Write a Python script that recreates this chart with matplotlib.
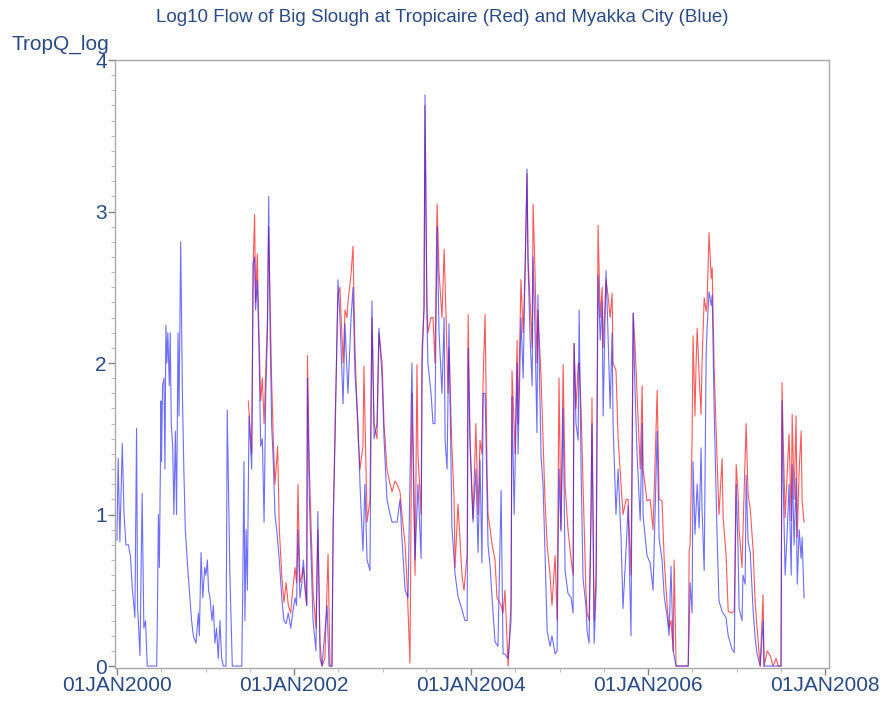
#!/usr/bin/env python3
"""Log10 flow of Big Slough at Tropicaire (red) and Myakka City (blue)."""

import numpy as np
import matplotlib
matplotlib.use("Agg")
import matplotlib.pyplot as plt
import matplotlib.dates as mdates
from matplotlib.ticker import MultipleLocator, FuncFormatter


# Myakka City (blue), decimal years and log10 flow
blue_t = [
    2000.000, 2000.015, 2000.034, 2000.060, 2000.079, 2000.102, 2000.128, 2000.154,
    2000.173, 2000.203, 2000.222, 2000.234, 2000.260, 2000.286, 2000.305, 2000.324,
    2000.343, 2000.448, 2000.456, 2000.467, 2000.478, 2000.486, 2000.497, 2000.505,
    2000.516, 2000.531, 2000.542, 2000.554, 2000.565, 2000.576, 2000.591, 2000.603,
    2000.614, 2000.629, 2000.644, 2000.659, 2000.674, 2000.689, 2000.701, 2000.719,
    2000.738, 2000.757, 2000.772, 2000.806, 2000.844, 2000.863, 2000.893, 2000.919,
    2000.930, 2000.949, 2000.968, 2000.991, 2001.006, 2001.021, 2001.036, 2001.051,
    2001.073, 2001.089, 2001.107, 2001.126, 2001.145, 2001.164, 2001.183, 2001.202,
    2001.232, 2001.247, 2001.277, 2001.303, 2001.409, 2001.420, 2001.435, 2001.446,
    2001.458, 2001.473, 2001.492, 2001.522, 2001.540, 2001.556, 2001.567, 2001.586,
    2001.605, 2001.623, 2001.642, 2001.661, 2001.680, 2001.699, 2001.714, 2001.729,
    2001.748, 2001.766, 2001.785, 2001.804, 2001.834, 2001.861, 2001.887, 2001.910,
    2001.936, 2001.962, 2001.985, 2002.011, 2002.030, 2002.045, 2002.068, 2002.090,
    2002.105, 2002.124, 2002.143, 2002.151, 2002.173, 2002.215, 2002.249, 2002.271,
    2002.294, 2002.316, 2002.373, 2002.395, 2002.429, 2002.441, 2002.463, 2002.497,
    2002.520, 2002.554, 2002.576, 2002.599, 2002.610, 2002.644, 2002.667, 2002.689,
    2002.723, 2002.746, 2002.780, 2002.802, 2002.825, 2002.859, 2002.881, 2002.904,
    2002.938, 2002.960, 2002.994, 2003.017, 2003.051, 2003.085, 2003.107, 2003.141,
    2003.164, 2003.198, 2003.220, 2003.254, 2003.288, 2003.333, 2003.367, 2003.401,
    2003.435, 2003.446, 2003.469, 2003.480, 2003.503, 2003.514, 2003.548, 2003.571,
    2003.593, 2003.616, 2003.638, 2003.672, 2003.695, 2003.706, 2003.729, 2003.751,
    2003.785, 2003.819, 2003.853, 2003.898, 2003.932, 2003.955, 2003.966, 2003.989,
    2004.023, 2004.056, 2004.079, 2004.102, 2004.124, 2004.136, 2004.158, 2004.181,
    2004.192, 2004.215, 2004.237, 2004.271, 2004.305, 2004.339, 2004.362, 2004.384,
    2004.418, 2004.452, 2004.463, 2004.486,
    2004.520, 2004.531, 2004.565, 2004.588, 2004.610, 2004.633, 2004.644,
    2004.667, 2004.689, 2004.701, 2004.723, 2004.746, 2004.757, 2004.791, 2004.814,
    2004.836, 2004.859, 2004.893, 2004.915, 2004.949, 2004.972, 2004.994, 2005.017,
    2005.040, 2005.062, 2005.096, 2005.130, 2005.153, 2005.164, 2005.186, 2005.209,
    2005.220, 2005.243, 2005.266, 2005.299, 2005.311, 2005.333, 2005.356, 2005.367,
    2005.390, 2005.412, 2005.435, 2005.458, 2005.480, 2005.492, 2005.525, 2005.548,
    2005.571, 2005.593, 2005.605, 2005.638, 2005.661, 2005.695, 2005.718, 2005.751,
    2005.774, 2005.808, 2005.831, 2005.853, 2005.876, 2005.910, 2005.932, 2005.944,
    2005.989, 2006.023, 2006.056, 2006.102, 2006.124, 2006.158, 2006.181, 2006.215,
    2006.237, 2006.260, 2006.282, 2006.316, 2006.452, 2006.463, 2006.475, 2006.497,
    2006.508, 2006.531, 2006.554, 2006.576, 2006.599, 2006.610, 2006.633, 2006.655,
    2006.667, 2006.689, 2006.712, 2006.723, 2006.746, 2006.780, 2006.802, 2006.836,
    2006.847, 2006.881, 2006.904, 2006.949, 2006.972, 2006.994, 2007.017, 2007.028,
    2007.062, 2007.073, 2007.096, 2007.107, 2007.130, 2007.153, 2007.186, 2007.209,
    2007.232, 2007.266, 2007.299, 2007.311, 2007.503, 2007.514, 2007.525, 2007.548,
    2007.571, 2007.593, 2007.616, 2007.627, 2007.650, 2007.672, 2007.684, 2007.706,
    2007.729, 2007.740, 2007.763,
]
blue_q = [
    0.83, 1.37, 0.82, 1.47, 1.01, 0.80, 0.80, 0.72,
    0.52, 0.32, 1.57, 0.40, 0.07, 1.14, 0.25, 0.30,
    0.00, 0.00, 0.35, 1.00, 0.65, 1.15, 1.75, 1.35,
    1.85, 1.90, 1.30, 2.25, 2.00, 2.20, 1.85, 2.20,
    1.60, 1.45, 1.00, 1.55, 1.00, 2.20, 1.65, 2.80,
    1.80, 1.30, 0.90, 0.60, 0.30, 0.20, 0.15, 0.35,
    0.20, 0.75, 0.45, 0.65, 0.60, 0.70, 0.50, 0.45,
    0.30, 0.40, 0.15, 0.25, 0.05, 0.30, 0.05, 0.00,
    0.00, 1.69, 0.60, 0.00, 0.00, 0.50, 1.35, 0.30,
    0.90, 0.50, 1.65, 1.30, 2.65, 2.70, 2.35, 2.55,
    2.10, 1.45, 1.50, 0.95, 1.80, 2.20, 3.10, 2.20,
    1.60, 1.35, 1.00, 0.90, 0.70, 0.45, 0.30, 0.28,
    0.35, 0.25, 0.35, 0.45, 0.40, 0.90, 0.45, 0.55,
    0.70, 0.55, 0.40, 1.90, 1.10, 0.30, 0.10, 1.02,
    0.05, 0.00, 0.40, 0.00, 0.00, 0.94, 1.50, 2.55,
    2.30, 1.73, 2.26, 1.95, 1.80, 2.30, 2.50, 1.93,
    1.60, 1.19, 0.76, 1.20, 0.70, 0.63, 2.41, 1.50,
    1.60, 2.23, 1.90, 1.50, 1.10, 1.00, 0.95, 0.95,
    0.95, 1.10, 0.84, 0.50, 0.45, 2.00, 0.70, 1.20,
    0.71, 2.00, 2.36, 3.77, 2.30, 2.00, 1.80, 1.60,
    1.60, 2.90, 2.20, 1.80, 2.30, 1.49, 1.30, 2.26,
    0.92, 0.61, 0.46, 0.37, 0.30, 0.30, 2.10, 1.45,
    0.95, 1.30, 0.75, 1.36, 0.68, 1.80, 1.80, 1.14,
    0.80, 0.65, 0.44, 0.16, 0.13, 1.16, 0.08, 0.08,
    0.05, 0.30, 1.78, 1.00,
    2.00, 1.40, 2.30, 1.90, 2.63, 3.28, 2.66,
    2.15, 1.85, 2.70, 2.20, 1.54, 2.45, 1.38, 1.20,
    0.76, 0.23, 0.13, 0.20, 0.08, 0.10, 1.30, 0.89,
    1.70, 0.63, 0.48, 0.45, 0.35, 2.13, 1.60, 1.49,
    2.35, 1.30, 0.58, 0.40, 0.23, 0.15, 1.00, 1.60,
    0.15, 0.50, 2.58, 2.15, 2.40, 1.65, 2.61, 2.20,
    1.70, 2.20, 1.60, 1.00, 1.30, 0.84, 0.38, 0.78,
    1.06, 0.20, 2.33, 1.80, 1.40, 0.96, 1.60, 0.99,
    0.73, 0.68, 0.50, 1.55, 0.84, 0.70, 0.46, 0.33,
    0.20, 0.66, 0.10, 0.00, 0.00, 0.23, 0.55, 0.35,
    1.35, 0.87, 1.20, 0.91, 1.44, 1.04, 0.63, 2.05,
    2.23, 2.47, 2.38, 2.45, 1.70, 0.87, 0.43, 0.36,
    0.35, 0.32, 0.20, 0.11, 0.09, 1.20, 0.76, 0.38,
    0.30, 0.60, 0.54, 1.26, 0.82, 0.75, 0.36, 0.19,
    0.08, 0.00, 0.30, 0.00, 0.00, 1.75, 1.20, 0.60,
    0.87, 1.20, 0.60, 1.33, 0.80, 1.24, 0.54, 0.90,
    0.71, 0.85, 0.45,
]

# Tropicaire (red), record starts mid 2001
red_t = [
    2001.484, 2001.522, 2001.540, 2001.556, 2001.567, 2001.586, 2001.605, 2001.623,
    2001.642, 2001.661, 2001.680, 2001.699, 2001.714, 2001.729, 2001.748, 2001.766,
    2001.785, 2001.815, 2001.834, 2001.861, 2001.887, 2001.910, 2001.936, 2001.962,
    2001.985, 2002.011, 2002.030, 2002.045, 2002.068, 2002.090, 2002.105, 2002.124,
    2002.143, 2002.151, 2002.173, 2002.215, 2002.249, 2002.271, 2002.294, 2002.316,
    2002.350, 2002.384, 2002.407, 2002.429, 2002.441, 2002.463, 2002.497, 2002.520,
    2002.554, 2002.576, 2002.599, 2002.610, 2002.644, 2002.667, 2002.689, 2002.723,
    2002.746, 2002.780, 2002.791, 2002.825, 2002.859, 2002.881, 2002.904, 2002.938,
    2002.960, 2002.994, 2003.017, 2003.051, 2003.085, 2003.107, 2003.141, 2003.164,
    2003.198, 2003.220, 2003.254, 2003.277, 2003.311, 2003.333, 2003.367, 2003.390,
    2003.401, 2003.435, 2003.446, 2003.469, 2003.480, 2003.503, 2003.514, 2003.548,
    2003.571, 2003.593, 2003.616, 2003.638, 2003.672, 2003.695, 2003.718, 2003.740,
    2003.751, 2003.785, 2003.808, 2003.819, 2003.853, 2003.898, 2003.921, 2003.955,
    2003.966, 2003.989, 2004.023, 2004.056, 2004.079, 2004.102, 2004.124, 2004.136,
    2004.158, 2004.181, 2004.192, 2004.215, 2004.237, 2004.271, 2004.294, 2004.339,
    2004.362, 2004.384, 2004.418, 2004.452,
    2004.463, 2004.497, 2004.520, 2004.531, 2004.565, 2004.588, 2004.610, 2004.633,
    2004.644, 2004.667, 2004.689, 2004.701, 2004.723, 2004.746, 2004.757, 2004.791,
    2004.814, 2004.836, 2004.859, 2004.893, 2004.915, 2004.949, 2004.972, 2004.994,
    2005.017, 2005.040, 2005.062, 2005.096, 2005.130, 2005.153, 2005.164, 2005.186,
    2005.209, 2005.220, 2005.243, 2005.266, 2005.299, 2005.311, 2005.333, 2005.356,
    2005.367, 2005.390, 2005.412, 2005.435, 2005.458, 2005.480, 2005.492, 2005.525,
    2005.548, 2005.571, 2005.593, 2005.605, 2005.638, 2005.661, 2005.695, 2005.718,
    2005.751, 2005.774, 2005.808, 2005.831, 2005.853, 2005.876, 2005.910, 2005.932,
    2005.944, 2005.989, 2006.023, 2006.056, 2006.102, 2006.124, 2006.158, 2006.181,
    2006.215, 2006.237, 2006.260, 2006.282, 2006.294, 2006.316, 2006.452, 2006.463,
    2006.475, 2006.497, 2006.508, 2006.531, 2006.542, 2006.554, 2006.576, 2006.599,
    2006.610, 2006.633, 2006.655, 2006.667, 2006.689, 2006.712, 2006.723, 2006.746,
    2006.780, 2006.802, 2006.836, 2006.847, 2006.881, 2006.904, 2006.949, 2006.972,
    2006.994, 2007.017, 2007.028, 2007.062, 2007.073, 2007.107, 2007.130, 2007.153,
    2007.186, 2007.209, 2007.232, 2007.266, 2007.299, 2007.311, 2007.345, 2007.379,
    2007.412, 2007.446, 2007.469, 2007.503, 2007.514, 2007.525, 2007.548, 2007.571,
    2007.593, 2007.616, 2007.627, 2007.650, 2007.672, 2007.684, 2007.706, 2007.729,
    2007.740, 2007.763,
]
red_q = [
    1.75, 1.40, 2.65, 2.98, 2.40, 2.72, 2.20, 1.75,
    1.90, 1.60, 1.95, 2.30, 2.90, 2.40, 1.90, 1.50,
    1.20, 1.45, 0.90, 0.60, 0.42, 0.55, 0.40, 0.35,
    0.50, 0.65, 0.55, 1.20, 0.55, 0.60, 0.65, 0.50,
    0.40, 2.05, 1.30, 0.50, 0.25, 0.90, 0.15, 0.00,
    0.05, 0.74, 0.00, 0.00, 0.90, 1.60, 2.45, 2.50,
    2.00, 2.35, 2.30, 2.40, 2.59, 2.77, 2.10, 1.50,
    1.30, 1.45, 1.98, 0.95, 1.10, 2.30, 1.60, 1.50,
    2.20, 2.00, 1.60, 1.30, 1.20, 1.15, 1.22, 1.20,
    1.15, 1.00, 0.80, 0.55, 0.02, 1.80, 0.60, 1.99,
    1.40, 1.00, 2.10, 2.36, 3.70, 2.40, 2.20, 2.30,
    2.30, 2.00, 3.05, 2.60, 2.30, 2.75, 2.30, 1.80,
    2.10, 1.45, 1.10, 0.65, 1.07, 0.59, 0.50, 0.74,
    2.32, 1.50, 0.97, 1.60, 1.00, 1.49, 1.40, 1.91,
    2.32, 1.30, 1.00, 0.90, 0.80, 0.70, 0.45, 0.40,
    0.35, 0.50, 0.00, 0.41,
    1.95, 1.40, 2.15, 1.60, 2.55, 2.20, 2.60, 3.25,
    2.70, 2.40, 2.10, 3.05, 2.60, 2.00, 2.35, 1.90,
    1.50, 1.10, 0.80, 0.60, 0.40, 0.73, 0.30, 1.90,
    0.90, 1.99, 1.20, 0.90, 0.70, 0.60, 2.13, 1.70,
    1.99, 2.00, 1.70, 1.20, 0.50, 0.35, 0.30, 1.00,
    1.77, 0.30, 0.60, 2.91, 2.30, 2.50, 2.10, 2.55,
    2.45, 2.30, 2.46, 2.00, 1.95, 1.50, 1.20, 1.00,
    1.10, 1.10, 0.60, 2.33, 2.10, 1.80, 1.30, 1.85,
    1.30, 1.09, 1.10, 0.90, 1.82, 1.10, 1.09, 0.70,
    0.40, 0.25, 0.30, 0.10, 0.70, 0.00, 0.00, 0.76,
    0.80, 1.50, 2.18, 1.65, 1.97, 2.23, 1.92, 1.66,
    2.00, 2.43, 2.34, 2.40, 2.86, 2.56, 2.63, 1.97,
    1.37, 1.00, 1.37, 0.98, 0.74, 0.36, 0.35, 0.36,
    1.33, 1.13, 0.90, 0.65, 0.89, 1.60, 1.13, 1.04,
    0.76, 0.43, 0.25, 0.00, 0.47, 0.00, 0.10, 0.07,
    0.00, 0.05, 0.00, 0.00, 1.87, 1.50, 0.98, 1.26,
    1.53, 0.96, 1.66, 1.10, 1.65, 0.85, 1.30, 1.55,
    1.09, 0.95,
]

TITLE = "Log10 Flow of Big Slough at Tropicaire (Red) and Myakka City (Blue)"
YLABEL = "TropQ_log"
TEXT_COLOR = "#2a4a84"
FRAME_COLOR = "#a8a8a8"


def to_dates(years):
    base = np.datetime64("2000-01-01")
    days = np.round((np.asarray(years) - 2000.0) * 365.25).astype(int)
    return base + days.astype("timedelta64[D]")


def main():
    plt.rcParams["font.family"] = ["Liberation Sans", "DejaVu Sans"]

    fig = plt.figure(figsize=(8.84, 7.02), dpi=100)
    ax = fig.add_axes([0.1301, 0.0484, 0.8077, 0.8661])

    ax.plot(to_dates(red_t), red_q, color="#ff2020", linewidth=0.8, alpha=0.75)
    ax.plot(to_dates(blue_t), blue_q, color="#2020ff", linewidth=0.8, alpha=0.65)

    ax.set_xlim(np.datetime64("1999-12-24"), np.datetime64("2008-01-17"))
    ax.set_ylim(-0.013, 4.0)

    ax.xaxis.set_major_locator(mdates.YearLocator(2))
    ax.xaxis.set_minor_locator(mdates.MonthLocator(bymonth=[1, 7]))
    ax.xaxis.set_major_formatter(
        FuncFormatter(lambda v, pos: mdates.num2date(v).strftime("%d%b%Y").upper())
    )
    ax.yaxis.set_major_locator(MultipleLocator(1))
    ax.yaxis.set_minor_locator(MultipleLocator(0.1))
    ax.yaxis.set_major_formatter(FuncFormatter(lambda v, pos: "{:d}".format(int(round(v)))))

    for spine in ax.spines.values():
        spine.set_color(FRAME_COLOR)
        spine.set_linewidth(1.0)

    ax.tick_params(axis="both", which="major", direction="out", length=5,
                   width=1.0, color="#808080", labelsize=15, labelcolor=TEXT_COLOR, pad=1)
    ax.tick_params(axis="both", which="minor", direction="out", length=3,
                   width=0.6, color="#b0b0b0")

    fig.text(0.5, 1 - 17 / 702, TITLE, ha="center", va="center",
             fontsize=13.5, color=TEXT_COLOR)
    fig.text(11 / 884, 1 - 44 / 702, YLABEL, ha="left", va="center",
             fontsize=15, color=TEXT_COLOR)

    fig.savefig("out.png", dpi=100)


if __name__ == "__main__":
    main()
